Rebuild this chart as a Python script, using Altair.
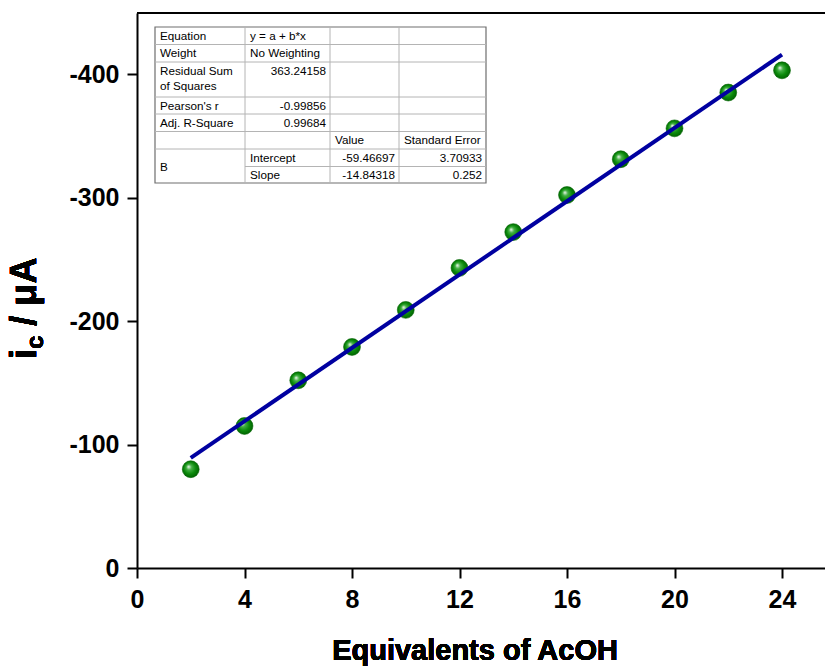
import altair as alt
import pandas as pd

# Cathodic peak current vs. equivalents of acetic acid
equivalents = [2, 4, 6, 8, 10, 12, 14, 16, 18, 20, 22, 24]
current_uA = [-80, -115, -152, -179, -209, -243, -272, -302, -331, -356, -385, -403]

# Linear fit results (y = a + b*x)
intercept = -59.46697
slope = -14.84318
fit_x = [2, 24]

x_ticks = [0, 4, 8, 12, 16, 20, 24]
y_ticks = [0, -100, -200, -300, -400]

# Fit report table
table_rows = [
    ["Equation", "y = a + b*x", "", ""],
    ["Weight", "No Weighting", "", ""],
    ["Residual Sum|of Squares", "363.24158", "", ""],
    ["Pearson's r", "-0.99856", "", ""],
    ["Adj. R-Square", "0.99684", "", ""],
    ["", "", "Value", "Standard Error"],
    ["B", "Intercept", "-59.46697", "3.70933"],
    ["", "Slope", "-14.84318", "0.252"],
]

W, H = 688, 555
FONT = "Liberation Sans"

points_df = pd.DataFrame({"eq": equivalents, "ic": current_uA})
fit_df = pd.DataFrame({"eq": fit_x, "ic": [intercept + slope * v for v in fit_x]})

xs = alt.Scale(domain=[0, 25.6], nice=False, zero=False)
ys = alt.Scale(domain=[0, -449.4], nice=False, zero=False)

x_axis = alt.Axis(values=x_ticks, title=None, grid=False, labelFlush=False)
y_axis = alt.Axis(
    values=y_ticks, title=None, grid=False,
    labelExpr="datum.value == 0 ? '0' : '-' + abs(datum.value)",
)

sphere = alt.RadialGradient(
    gradient="radial",
    x1=0.36, y1=0.34, r1=0.0,
    x2=0.5, y2=0.5, r2=0.55,
    stops=[
        alt.GradientStop(color="#ffffff", offset=0.0),
        alt.GradientStop(color="#45b045", offset=0.28),
        alt.GradientStop(color="#0b8a0b", offset=0.62),
        alt.GradientStop(color="#005c00", offset=1.0),
    ],
)

points = alt.Chart(points_df).mark_circle(
    size=285, fill=sphere, opacity=1, stroke="#006400", strokeWidth=0.6
).encode(
    x=alt.X("eq:Q", scale=xs, axis=x_axis),
    y=alt.Y("ic:Q", scale=ys, axis=y_axis),
)

fit_line = alt.Chart(fit_df).mark_line(color="#0000a0", strokeWidth=4).encode(
    x=alt.X("eq:Q", scale=xs),
    y=alt.Y("ic:Q", scale=ys),
)

top_border = alt.Chart(points_df).mark_rule(color="black", strokeWidth=2).encode(
    x=alt.value(0), x2=alt.value(W), y=alt.value(0)
)

# ---- fit report table (pixel layout inside the plot area) ----
col_x = [18, 108, 193, 262, 349]
row_y = [14, 31.5, 49, 84, 101, 118.5, 136, 153.5, 170]

lines = []
for r in row_y[1:7]:
    lines.append({"x": col_x[0], "x2": col_x[4], "y": r, "y2": r})
lines.append({"x": col_x[1], "x2": col_x[4], "y": row_y[7], "y2": row_y[7]})
for c in col_x[1:4]:
    lines.append({"x": c, "x2": c, "y": row_y[0], "y2": row_y[8]})
lines_df = pd.DataFrame(lines)

left_cells, right_cells = [], []
for ri, row in enumerate(table_rows):
    top, bot = row_y[ri], row_y[ri + 1]
    for ci, txt in enumerate(row):
        if not txt:
            continue
        numeric = txt[0] in "-0123456789" and ci > 0
        if "|" in txt:
            for k, part in enumerate(txt.split("|")):
                left_cells.append({"x": col_x[ci] + 5, "y": top + 8.5 + k * 15, "t": part})
            continue
        yc = (top + bot) / 2
        if ri == 2:
            yc = top + 8.5
        if txt == "B":
            yc = row_y[7]
        if numeric:
            right_cells.append({"x": col_x[ci + 1] - 4, "y": yc, "t": txt})
        else:
            left_cells.append({"x": col_x[ci] + 5, "y": yc, "t": txt})

bg_df = pd.DataFrame([{"x": col_x[0], "x2": col_x[4], "y": row_y[0], "y2": row_y[8]}])

table_shadow = alt.Chart(bg_df).mark_rect(fill="#9a9a9a").encode(
    x=alt.X("x:Q", scale=None), x2=alt.X2("x2"),
    y=alt.Y("y:Q", scale=None), y2=alt.Y2("y2"),
    xOffset=alt.value(1.5), yOffset=alt.value(1.5),
)
table_bg = alt.Chart(bg_df).mark_rect(fill="white", stroke="#6e6e6e", strokeWidth=1.2).encode(
    x=alt.X("x:Q", scale=None), x2=alt.X2("x2"),
    y=alt.Y("y:Q", scale=None), y2=alt.Y2("y2"),
)
table_lines = alt.Chart(lines_df).mark_rule(color="#b4b4b4", strokeWidth=1).encode(
    x=alt.X("x:Q", scale=None), x2=alt.X2("x2"),
    y=alt.Y("y:Q", scale=None), y2=alt.Y2("y2"),
)
text_left = alt.Chart(pd.DataFrame(left_cells)).mark_text(
    align="left", baseline="middle", font=FONT, fontSize=11.7, color="black"
).encode(x=alt.X("x:Q", scale=None), y=alt.Y("y:Q", scale=None), text="t:N")
text_right = alt.Chart(pd.DataFrame(right_cells)).mark_text(
    align="right", baseline="middle", font=FONT, fontSize=11.7, color="black"
).encode(x=alt.X("x:Q", scale=None), y=alt.Y("y:Q", scale=None), text="t:N")

# ---- axis titles ----
x_title = alt.Chart(points_df).mark_text(
    text="Equivalents of AcOH", font=FONT, fontSize=29, fontWeight="bold",
    align="center", baseline="middle", color="black",
).encode(x=alt.value(338), y=alt.value(638))

# y title "i_c / μA" drawn bottom-to-top with a subscript c
y_base_x = -101
y_start = 346
i_size, c_size = 36, 24
c_start = y_start - 0.278 * i_size
rest_start = c_start - 0.556 * c_size - 0.278 * i_size


def title_piece(txt, size, x, y):
    return alt.Chart(points_df).mark_text(
        text=txt, font=FONT, fontSize=size, fontWeight="bold", angle=270,
        align="left", baseline="alphabetic", color="black",
    ).encode(x=alt.value(x), y=alt.value(y))


y_title_i = title_piece("i", i_size, y_base_x, y_start)
y_title_c = title_piece("c", c_size, y_base_x + 7, c_start)
y_title_rest = title_piece("/ μA", i_size, y_base_x, rest_start)

chart = alt.layer(
    points, fit_line, top_border,
    table_shadow, table_bg, table_lines, text_left, text_right,
    x_title, y_title_i, y_title_c, y_title_rest,
).properties(
    width=W, height=H,
    autosize=alt.AutoSizeParams(type="none"),
    padding={"left": 137, "top": 13, "right": 0, "bottom": 98},
    background="white",
).configure_view(
    stroke=None
).configure_axis(
    domainColor="black", domainWidth=2,
    tickColor="black", tickWidth=2, tickSize=10,
    labelFont=FONT, labelFontSize=25, labelFontWeight="bold", labelColor="black",
).configure_axisX(
    labelPadding=9
).configure_axisY(
    labelPadding=8
)

chart.save("out.html", embed_options={"renderer": "svg", "actions": False})
